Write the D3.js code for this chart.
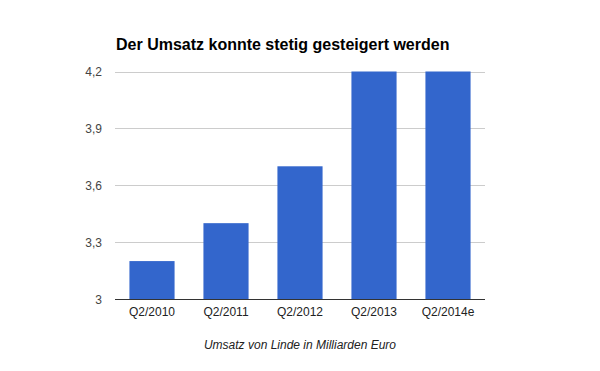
<!DOCTYPE html>
<html>
<head>
<meta charset="utf-8">
<script src="https://cdnjs.cloudflare.com/ajax/libs/d3/7.8.5/d3.min.js"></script>
<style>
	body { margin: 0; background: #fff; }
	text { font-family: Arial, "Liberation Sans", sans-serif; }
</style>
</head>
<body>
<svg id="chartSVG" width="600" height="371"></svg>
<script>
var categories = ["Q2/2010", "Q2/2011", "Q2/2012", "Q2/2013", "Q2/2014e"];
var umsatz = [3.2, 3.4, 3.7, 4.2, 4.2];
var yTicks = [3, 3.3, 3.6, 3.9, 4.2];

var svg = d3.select("#chartSVG");
var plotLeft = 115, plotRight = 485, plotTop = 71.5, plotBottom = 299;

var x = d3.scaleBand()
	.domain(categories)
	.range([plotLeft, plotRight])
	.paddingInner(0.39)
	.paddingOuter(0.195);

var y = d3.scaleLinear()
	.domain([3, 4.2])
	.range([plotBottom, plotTop]);

var comma = function(d){ return String(d).replace(".", ","); };

// gridlines
svg.append("g").selectAll("line")
	.data(yTicks.slice(1))
	.enter().append("line")
		.attr("x1", plotLeft)
		.attr("x2", plotRight)
		.attr("y1", function(d){ return Math.round(y(d)) + 0.5; })
		.attr("y2", function(d){ return Math.round(y(d)) + 0.5; })
		.attr("stroke", "#cccccc")
		.attr("stroke-width", 1);

// bars
svg.append("g").selectAll("rect")
	.data(umsatz)
	.enter().append("rect")
		.attr("x", function(d, i){ return x(categories[i]); })
		.attr("width", x.bandwidth())
		.attr("y", function(d){ return y(d); })
		.attr("height", function(d){ return plotBottom - y(d); })
		.attr("fill", "#3366cc");

// baseline
svg.append("line")
	.attr("x1", plotLeft).attr("x2", plotRight)
	.attr("y1", plotBottom + 0.5).attr("y2", plotBottom + 0.5)
	.attr("stroke", "#333333")
	.attr("stroke-width", 1);

// y labels
svg.append("g").selectAll("text")
	.data(yTicks)
	.enter().append("text")
		.attr("x", 102)
		.attr("y", function(d){ return y(d) + 4.5; })
		.attr("text-anchor", "end")
		.attr("font-size", 12)
		.attr("fill", "#444444")
		.text(comma);

// x labels
svg.append("g").selectAll("text")
	.data(categories)
	.enter().append("text")
		.attr("x", function(d){ return x(d) + x.bandwidth() / 2; })
		.attr("y", 316)
		.attr("text-anchor", "middle")
		.attr("font-size", 12)
		.attr("fill", "#222222")
		.text(function(d){ return d; });

// title
svg.append("text")
	.attr("x", 116)
	.attr("y", 50)
	.attr("font-size", 16)
	.attr("font-weight", "bold")
	.attr("fill", "#000000")
	.text("Der Umsatz konnte stetig gesteigert werden");

// axis title
svg.append("text")
	.attr("x", 300)
	.attr("y", 349)
	.attr("text-anchor", "middle")
	.attr("font-size", 12)
	.attr("font-style", "italic")
	.attr("fill", "#222222")
	.text("Umsatz von Linde in Milliarden Euro");
</script>
</body>
</html>
